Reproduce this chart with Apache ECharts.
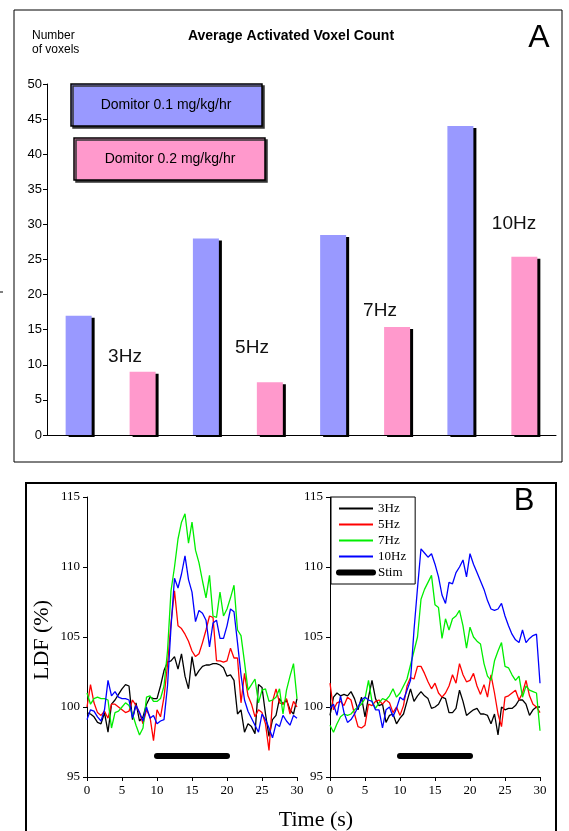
<!DOCTYPE html>
<html>
<head>
<meta charset="utf-8">
<script src="https://cdn.jsdelivr.net/npm/echarts@6/dist/echarts.min.js"></script>
<style>
html,body{margin:0;padding:0;background:#fff}
#main{width:569px;height:831px}
</style>
</head>
<body>
<div id="main"></div>
<script>
// panel A: average activated voxel count
const freqs = ['3Hz', '5Hz', '7Hz', '10Hz'];
const dose01 = [17, 28, 28.5, 44];
const dose02 = [9, 7.5, 15.4, 25.4];

// panel B: LDF time courses, sampled every 0.5 s
const times = [0,0.5,1,1.5,2,2.5,3,3.5,4,4.5,5,5.5,6,6.5,7,7.5,8,8.5,9,9.5,10,10.5,11,11.5,12,12.5,13,13.5,14,14.5,15,
  15.5,16,16.5,17,17.5,18,18.5,19,19.5,20,20.5,21,21.5,22,22.5,23,23.5,24,24.5,25,25.5,26,26.5,27,27.5,28,28.5,29,29.5,30];

const left3Hz = [99.6,99.5,99.3,98.9,98.8,99.6,98.2,100.2,100.5,100.9,101.3,101.6,101.5,99.1,100.3,99.0,99.3,100.2,100.7,100.6,100.6,
  101.5,102.6,103.2,103.3,103.6,102.7,103.8,102.2,101.3,103.6,102.2,102.6,102.9,103.0,103.0,103.1,103.1,103.0,102.8,102.2,
  102.3,101.9,99.5,99.8,98.2,98.8,98.6,98.1,101.6,101.4,99.5,97.9,99.1,99.4,100.6,100.2,100.5,99.8,99.5,100.6];
const left5Hz = [100.0,101.6,100.3,99.6,99.4,99.7,99.2,100.2,100.2,100.0,99.8,99.6,99.7,100.5,100.1,99.6,98.8,99.8,99.3,97.6,99.8,
  99.3,100.7,103.0,106.0,108.3,105.8,105.6,105.2,104.7,104.0,103.6,103.8,104.6,105.5,106.5,106.4,103.3,103.3,103.2,103.3,
  104.2,103.5,103.5,100.3,102.4,100.8,100.2,99.3,99.8,99.6,98.8,96.9,100.4,101.3,100.3,100.2,100.6,99.5,100.4,100.0];
const left7Hz = [101.0,100.2,100.6,100.7,100.6,100.6,100.5,98.5,99.6,99.7,100.0,100.3,100.1,99.5,98.7,98.0,98.5,100.7,100.8,100.4,100.4,
  100.6,101.5,104.0,108.3,110.0,112.0,113.2,113.8,111.7,113.2,111.2,110.3,109.0,107.8,109.4,106.5,106.4,108.2,106.5,107.0,
  107.8,108.7,105.5,105.1,103.2,101.2,101.6,102.0,100.3,101.2,101.3,100.4,100.5,100.7,101.3,99.5,101.2,102.2,103.1,100.6];
const left10Hz = [99.1,99.8,99.7,99.3,99.0,99.8,101.9,100.8,101.1,100.7,100.6,100.6,100.5,99.2,100.1,99.6,99.0,100.0,99.2,99.4,98.8,
  99.0,99.1,101.5,105.7,109.2,108.5,109.5,110.8,109.1,108.2,106.1,106.9,106.7,106.2,104.3,106.0,106.2,104.9,104.9,105.8,
  107.0,106.8,104.6,102.3,100.5,99.7,99.2,98.7,98.2,99.5,99.1,98.5,97.8,98.8,98.6,99.4,99.0,98.7,99.4,99.2];

const right3Hz = [99.4,100.7,101.0,100.8,100.9,100.8,101.1,100.6,99.8,100.7,99.3,100.7,101.9,100.6,100.1,100.2,98.9,99.4,99.5,98.8,99.2,
  99.5,100.4,101.3,100.4,100.8,101.1,100.8,100.6,99.9,100.0,100.2,100.7,100.6,99.6,99.6,99.9,101.2,100.4,99.4,99.6,
  99.8,99.9,99.5,99.5,99.4,98.8,99.5,98.0,100.0,99.8,99.9,99.9,100.1,100.5,100.5,100.2,99.4,99.8,100.0,100.0];
const right5Hz = [101.7,99.8,100.3,100.4,100.1,100.7,100.5,99.5,98.6,98.5,98.7,100.2,100.1,100.4,100.5,100.2,100.5,100.3,99.6,100.0,99.4,
  100.1,101.5,102.1,102.0,102.9,102.9,102.4,101.8,101.3,101.7,101.0,100.7,101.0,101.5,102.3,101.7,103.1,102.3,101.8,101.9,
  102.4,101.5,100.9,101.6,100.7,102.3,101.0,99.5,98.6,100.7,100.8,101.0,101.2,100.5,101.0,101.9,100.8,100.2,100.0,99.6];
const right7Hz = [98.7,98.2,98.8,99.3,99.5,99.4,99.5,99.8,100.0,100.2,100.6,101.9,100.4,99.9,100.3,100.6,100.5,100.8,101.3,100.7,101.0,
  101.5,102.0,103.0,104.0,105.0,107.7,108.4,108.9,109.4,107.3,107.1,104.9,106.3,105.5,106.3,106.5,106.9,105.8,104.2,105.7,
  105.0,104.7,104.5,103.1,102.2,101.9,103.3,104.0,104.6,102.9,102.8,102.3,101.9,102.2,100.7,101.5,101.2,101.1,101.0,98.3];
const right10Hz = [99.9,100.2,99.4,100.8,99.6,98.9,99.1,99.5,100.0,100.5,100.7,100.5,100.4,99.8,99.8,98.5,99.8,100.0,99.3,99.9,100.7,
  100.5,101.2,101.9,105.5,108.5,111.3,111.0,110.7,110.95,110.2,109.3,108.0,107.4,108.9,108.8,109.6,110.0,110.5,109.3,110.95,
  110.2,109.6,109.0,108.4,107.6,107.0,106.9,107.0,107.4,106.5,105.8,105.2,104.8,104.6,105.5,104.6,104.9,105.1,105.2,101.7];

const stimX = [10, 20];
const stimY = [96.5, 96.5];

const lineColors = {'3Hz': '#000000', '5Hz': '#ff0000', '7Hz': '#00ee00', '10Hz': '#0000ff'};

function pairs(xs, ys) {
  return xs.map((x, i) => [x, ys[i]]);
}

const chart = echarts.init(document.getElementById('main'), null, {renderer: 'canvas'});

const sans = 'Liberation Sans, Arial, sans-serif';
const serif = 'Liberation Serif, Times New Roman, serif';

function lineAxes(gridIndex) {
  return {
    x: {
      type: 'value', gridIndex: gridIndex, min: 0, max: 30, interval: 5,
      axisLine: {lineStyle: {color: '#000', width: 1}},
      axisTick: {length: 4, lineStyle: {color: '#000'}},
      axisLabel: {color: '#000', fontFamily: serif, fontSize: 13, margin: 7},
      splitLine: {show: false}
    },
    y: {
      type: 'value', gridIndex: gridIndex, min: 95, max: 115, interval: 5,
      axisLine: {show: true, lineStyle: {color: '#000', width: 1}},
      axisTick: {show: true, length: 4, lineStyle: {color: '#000'}},
      axisLabel: {color: '#000', fontFamily: serif, fontSize: 13, margin: 7},
      splitLine: {show: false}
    }
  };
}

const axL = lineAxes(1);
const axR = lineAxes(2);

const leftSets = {'3Hz': left3Hz, '5Hz': left5Hz, '7Hz': left7Hz, '10Hz': left10Hz};
const rightSets = {'3Hz': right3Hz, '5Hz': right5Hz, '7Hz': right7Hz, '10Hz': right10Hz};

const lineSeries = [];
[[leftSets, 1], [rightSets, 2]].forEach(([sets, idx]) => {
  freqs.forEach(f => {
    lineSeries.push({
      name: f, type: 'line', xAxisIndex: idx, yAxisIndex: idx,
      data: pairs(times, sets[f]), symbol: 'none', animation: false,
      lineStyle: {color: lineColors[f], width: 1.3}, itemStyle: {color: lineColors[f]}
    });
  });
  lineSeries.push({
    name: 'Stim', type: 'line', xAxisIndex: idx, yAxisIndex: idx,
    data: pairs(stimX, stimY), symbol: 'none', animation: false,
    lineStyle: {color: '#000', width: 6, cap: 'round'}, itemStyle: {color: '#000'}
  });
});

// hand placed frequency labels next to the bars
const hzLabelPos = [[125, 357], [252, 348], [380, 311], [514, 224]];

const option = {
  animation: false,
  backgroundColor: '#fff',
  grid: [
    {left: 47, top: 84, right: 13, bottom: 396},
    {left: 87, top: 497, width: 210, height: 280},
    {left: 330, top: 497, width: 210, height: 280}
  ],
  xAxis: [
    {
      type: 'category', gridIndex: 0, data: freqs,
      axisLine: {lineStyle: {color: '#000', width: 1}},
      axisTick: {show: false}, axisLabel: {show: false}
    },
    axL.x, axR.x
  ],
  yAxis: [
    {
      type: 'value', gridIndex: 0, min: 0, max: 50, interval: 5,
      axisLine: {show: true, lineStyle: {color: '#000', width: 1}},
      axisTick: {show: true, length: 4, lineStyle: {color: '#000'}},
      axisLabel: {color: '#000', fontFamily: sans, fontSize: 13, margin: 5},
      splitLine: {show: false}
    },
    axL.y, axR.y
  ],
  legend: {
    left: 331, top: 497, orient: 'vertical',
    data: freqs.map(f => ({name: f})).concat([
      {name: 'Stim', lineStyle: {width: 6, cap: 'round', color: '#000'}}
    ]),
    selectedMode: false,
    backgroundColor: '#fff',
    borderColor: '#000', borderWidth: 1,
    padding: [5, 9, 5, 5], itemGap: 3,
    itemWidth: 34, itemHeight: 13,
    itemStyle: {opacity: 0},
    textStyle: {color: '#000', fontFamily: serif, fontSize: 13}
  },
  series: [
    {
      name: 'Domitor 0.1 mg/kg/hr', type: 'bar', xAxisIndex: 0, yAxisIndex: 0,
      data: dose01, barWidth: 26, barGap: '146%',
      itemStyle: {color: '#9999ff', shadowColor: '#000', shadowBlur: 0, shadowOffsetX: 3, shadowOffsetY: 2}
    },
    {
      name: 'Domitor 0.2 mg/kg/hr', type: 'bar', xAxisIndex: 0, yAxisIndex: 0,
      data: dose02, barWidth: 26,
      itemStyle: {color: '#ff99cc', shadowColor: '#000', shadowBlur: 0, shadowOffsetX: 3, shadowOffsetY: 2}
    }
  ].concat(lineSeries),
  graphic: [
    // panel frames
    {type: 'rect', shape: {x: 14, y: 10, width: 548, height: 452}, style: {fill: 'none', stroke: '#000', lineWidth: 1}, silent: true},
    {type: 'rect', shape: {x: 26, y: 483, width: 530, height: 380}, style: {fill: 'none', stroke: '#000', lineWidth: 2}, silent: true},
    {type: 'line', shape: {x1: 0, y1: 292, x2: 3, y2: 292}, style: {stroke: '#000', lineWidth: 1}},
    // panel A texts
    {type: 'text', left: 32, top: 29, style: {text: 'Number\nof voxels', font: '12px ' + sans, fill: '#000', lineHeight: 14}},
    {type: 'text', x: 291, y: 36, style: {text: 'Average Activated Voxel Count', font: 'bold 14px ' + sans, fill: '#000', align: 'center', verticalAlign: 'middle'}},
    {type: 'text', x: 539, y: 38, style: {text: 'A', font: '32px ' + sans, fill: '#000', align: 'center', verticalAlign: 'middle'}},
    // dose boxes
    {type: 'rect', shape: {x: 71, y: 84, width: 191, height: 42}, style: {fill: '#9999ff', stroke: '#000', lineWidth: 1.5, shadowColor: '#333', shadowOffsetX: 2, shadowOffsetY: 2}},
    {type: 'text', x: 166, y: 105, style: {text: 'Domitor 0.1 mg/kg/hr', font: '14px ' + sans, fill: '#000', align: 'center', verticalAlign: 'middle'}},
    {type: 'rect', shape: {x: 74, y: 138, width: 191, height: 42}, style: {fill: '#ff99cc', stroke: '#000', lineWidth: 1.5, shadowColor: '#333', shadowOffsetX: 2, shadowOffsetY: 2}},
    {type: 'text', x: 170, y: 159, style: {text: 'Domitor 0.2 mg/kg/hr', font: '14px ' + sans, fill: '#000', align: 'center', verticalAlign: 'middle'}}
  ].concat(freqs.map((f, i) => ({
    type: 'text', x: hzLabelPos[i][0], y: hzLabelPos[i][1],
    style: {text: f, font: '19px ' + sans, fill: '#111', align: 'center', verticalAlign: 'middle'}
  }))).concat([
    // panel B texts
    {type: 'text', x: 524, y: 501, style: {text: 'B', font: '31px ' + sans, fill: '#000', align: 'center', verticalAlign: 'middle'}},
    {type: 'text', x: 316, y: 820, style: {text: 'Time (s)', font: '22px ' + serif, fill: '#000', align: 'center', verticalAlign: 'middle'}},
    {type: 'text', x: 42, y: 640, rotation: Math.PI / 2, style: {text: 'LDF (%)', font: '22px ' + serif, fill: '#000', align: 'center', verticalAlign: 'middle'}}
  ])
};

chart.setOption(option);
</script>
</body>
</html>
